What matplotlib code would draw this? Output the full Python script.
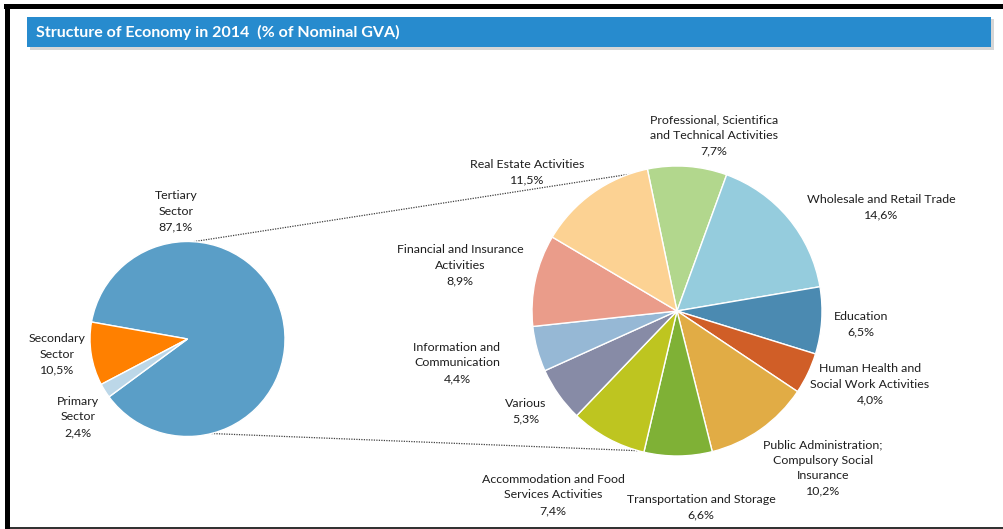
import matplotlib
matplotlib.use("Agg")
import matplotlib.pyplot as plt
from matplotlib.patches import Rectangle
import numpy as np

# ---- data ----
sector_labels = ["Tertiary\nSector", "Secondary\nSector", "Primary\nSector"]
sector_values = [87.1, 10.5, 2.4]
sector_colors = ["#5A9EC7", "#FF8000", "#BCD7E8"]

tertiary_labels = [
    "Professional, Scientifica\nand Technical Activities",
    "Wholesale and Retail Trade",
    "Education",
    "Human Health and\nSocial Work Activities",
    "Public Administration;\nCompulsory Social\nInsurance",
    "Transportation and Storage",
    "Accommodation and Food\nServices Activities",
    "Various",
    "Information and\nCommunication",
    "Financial and Insurance\nActivities",
    "Real Estate Activities",
]
tertiary_values = [7.7, 14.6, 6.5, 4.0, 10.2, 6.6, 7.4, 5.3, 4.4, 8.9, 11.5]
tertiary_colors = ["#B2D78D", "#95CCDD", "#4B8AB1", "#D05E27", "#E1AC45",
                   "#7FB136", "#BEC520", "#878BA6", "#96B8D5", "#EA9C8A", "#FCD293"]

title = "Structure of Economy in 2014  (% of Nominal GVA)"

# ---- layout (pixel space, y measured from top) ----
W, H = 1004, 529
sector_label_pos = [(176, 211), (57, 354), (78, 417)]
tertiary_label_pos = [(714, 135), (881, 207), (861, 324), (870, 384), (823, 468),
                      (701, 507), (553, 495), (526, 411), (457, 363), (460, 265), (527, 172)]

FONT = ["Lato", "DejaVu Sans"]
TXT = "#1E1E1E"

fig = plt.figure(figsize=(W / 100, H / 100), dpi=100)
ax = fig.add_axes([0, 0, 1, 1])

def Y(y):
    return H - y

def fmt(v):
    return ("%.1f" % v).replace(".", ",") + "%"

# left pie
c1 = (187.5, Y(339)); r1 = 97.5
start1 = 216.4
ax.pie(sector_values, colors=sector_colors, center=c1, radius=r1, startangle=start1,
       counterclock=True, wedgeprops=dict(edgecolor="white", linewidth=1.0), frame=True)

# right pie
c2 = (677, Y(311)); r2 = 145
start2 = 101.8
ax.pie(tertiary_values, colors=tertiary_colors, center=c2, radius=r2, startangle=start2,
       counterclock=False, wedgeprops=dict(edgecolor="white", linewidth=1.0), frame=True)
ax.set_xlim(0, W)
ax.set_ylim(0, H)
ax.set_aspect("equal")
ax.axis("off")

# connector lines (dotted)
def pt(c, r, ang):
    a = np.deg2rad(ang)
    return c[0] + r * np.cos(a), c[1] + r * np.sin(a)

for a1, a2 in [(86.5, 109.5), (-75.8, 254.5)]:
    p1 = pt(c1, r1, a1)
    p2 = pt(c2, r2, a2)
    ax.plot([p1[0], p2[0]], [p1[1], p2[1]], color="#404040", lw=0.9,
            linestyle=(0, (1, 1)), zorder=0.5)

# labels
for lab, v, (x, y) in zip(sector_labels, sector_values, sector_label_pos):
    ax.text(x, Y(y), lab + "\n" + fmt(v), ha="center", va="center", fontsize=8.9,
            family=FONT, color=TXT, linespacing=1.5, multialignment="center")
for lab, v, (x, y) in zip(tertiary_labels, tertiary_values, tertiary_label_pos):
    ax.text(x, Y(y), lab + "\n" + fmt(v), ha="center", va="center", fontsize=8.9,
            family=FONT, color=TXT, linespacing=1.5, multialignment="center")

# title bar with shadow
ax.add_patch(Rectangle((30, Y(50)), 964, 31, facecolor="#9A9A9A", alpha=0.4,
                       edgecolor="none", zorder=3))
ax.add_patch(Rectangle((27, Y(47)), 964, 30, facecolor="#278BCE",
                       edgecolor="none", zorder=4))
ax.text(36, Y(32), title, ha="left", va="center", fontsize=11.5, fontweight="bold",
        family=FONT, color="white", zorder=5)

# frame borders
ax.add_patch(Rectangle((4, Y(9)), W - 4, 5, facecolor="black", edgecolor="none", zorder=6))
ax.add_patch(Rectangle((5, 0), 5, Y(4), facecolor="black", edgecolor="none", zorder=6))
ax.add_patch(Rectangle((10, Y(529)), W - 10, 1.5, facecolor="#333333", edgecolor="none", zorder=6))

fig.savefig("out.png", dpi=100)
